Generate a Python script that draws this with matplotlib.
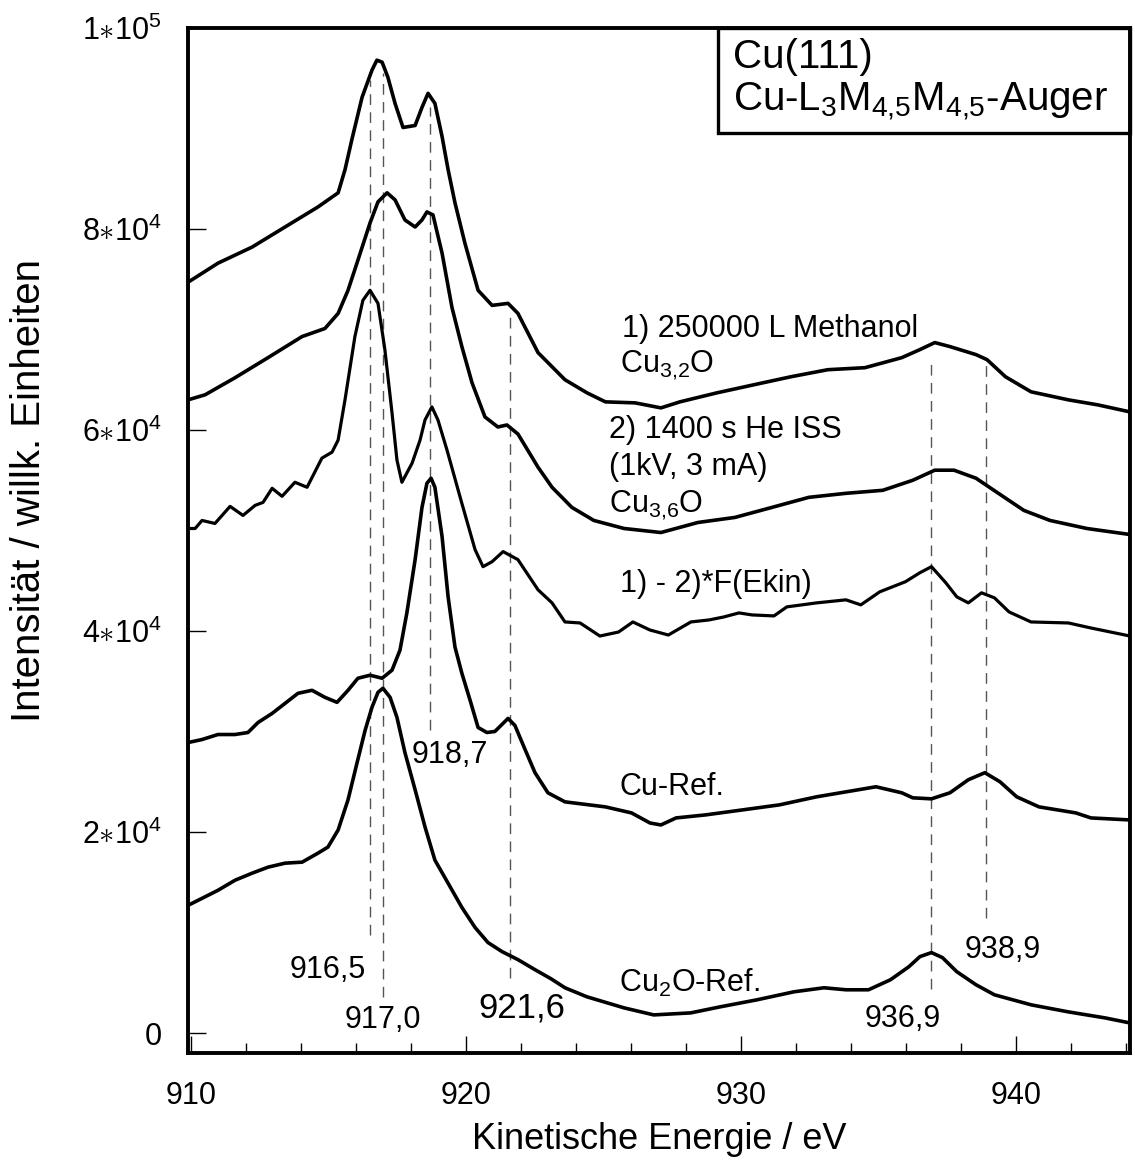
import matplotlib
matplotlib.use("Agg")
import matplotlib.pyplot as plt
from matplotlib.patches import Rectangle
from matplotlib.ticker import FixedLocator, FixedFormatter

plt.rcParams['font.family'] = ['Liberation Sans', 'DejaVu Sans']
plt.rcParams['mathtext.fontset'] = 'custom'
plt.rcParams['mathtext.rm'] = 'Liberation Sans'
plt.rcParams['mathtext.it'] = 'Liberation Sans:italic'
plt.rcParams['mathtext.bf'] = 'Liberation Sans:bold'

# Auger spectra, kinetic energy in eV, intensity in 10^3 counts
e_meoh = [909.89, 910.98, 912.22, 913.42, 914.62, 915.35, 915.60, 915.85, 916.22, 916.58,
          916.76, 916.95, 917.16, 917.42, 917.71, 918.15, 918.40, 918.62, 918.87, 919.13,
          919.35, 919.60, 919.96, 920.44, 920.95, 921.53, 921.89, 922.62, 923.60, 924.40,
          925.07, 926.15, 927.09, 927.78, 929.13, 930.47, 931.82, 933.16, 934.51, 935.85,
          936.51, 937.05, 937.60, 938.55, 938.95, 939.62, 940.55, 941.91, 942.98, 944.15]
i_meoh = [74.7, 76.6, 78.2, 80.2, 82.2, 83.6, 85.9, 88.9, 93.1, 95.8,
          96.8, 96.6, 95.1, 92.5, 90.1, 90.3, 92.1, 93.5, 92.5, 89.2,
          85.9, 82.6, 78.6, 73.9, 72.4, 72.6, 71.6, 67.7, 65.0, 63.7,
          62.8, 62.7, 62.2, 62.8, 63.7, 64.5, 65.3, 66.0, 66.2, 67.2,
          68.0, 68.7, 68.3, 67.5, 67.0, 65.3, 63.8, 63.0, 62.5, 61.8]

e_iss = [909.89, 910.51, 911.60, 912.80, 914.04, 914.87, 915.35, 915.71, 916.07, 916.51,
         916.80, 917.13, 917.42, 917.78, 918.15, 918.40, 918.58, 918.80, 919.13, 919.49,
         919.85, 920.22, 920.69, 921.16, 921.49, 921.89, 922.62, 923.13, 923.60, 923.85,
         924.65, 925.75, 927.09, 928.44, 929.78, 931.13, 932.47, 933.82, 935.16, 936.25,
         937.05, 937.75, 938.55, 939.20, 940.29, 941.24, 942.58, 944.15]
i_iss = [63.0, 63.5, 65.2, 67.2, 69.3, 70.1, 71.6, 73.9, 76.9, 80.6,
         82.7, 83.6, 82.9, 80.9, 80.2, 80.9, 81.7, 81.4, 77.6, 72.2,
         68.3, 64.7, 61.3, 60.3, 60.5, 59.6, 56.3, 54.3, 53.0, 52.3,
         51.0, 50.2, 49.8, 50.8, 51.3, 52.3, 53.3, 53.7, 54.0, 55.0,
         56.0, 56.0, 55.2, 54.0, 52.0, 51.0, 50.2, 49.6]

e_diff = [909.89, 910.15, 910.40, 910.87, 911.42, 911.89, 912.33, 912.62, 912.95, 913.31,
          913.78, 914.22, 914.76, 915.13, 915.35, 915.60, 915.96, 916.25, 916.51, 916.80,
          917.05, 917.31, 917.49, 917.67, 918.04, 918.33, 918.51, 918.76, 918.98, 919.31,
          919.85, 920.33, 920.62, 920.95, 921.35, 921.89, 922.62, 923.13, 923.60, 924.15,
          924.87, 925.55, 926.07, 926.69, 927.36, 928.18, 928.84, 929.38, 929.93, 930.40,
          931.20, 931.67, 932.76, 933.82, 934.36, 935.05, 935.98, 936.51, 936.93, 937.45,
          937.85, 938.27, 938.75, 939.22, 939.75, 940.55, 941.91, 942.73, 944.15]
i_diff = [50.2, 50.2, 51.0, 50.7, 52.4, 51.5, 52.5, 52.8, 54.2, 53.4,
          54.8, 54.3, 57.2, 57.8, 59.0, 63.0, 69.3, 72.9, 73.9, 72.6,
          68.0, 61.7, 57.0, 54.8, 56.7, 59.0, 61.0, 62.3, 61.0, 58.0,
          52.7, 48.1, 46.4, 46.9, 47.9, 47.1, 44.1, 42.8, 40.9, 40.8,
          39.5, 39.9, 40.9, 40.1, 39.6, 40.9, 41.1, 41.4, 41.8, 41.6,
          41.5, 42.4, 42.8, 43.1, 42.6, 43.9, 44.9, 45.8, 46.4, 44.8,
          43.4, 42.8, 43.8, 43.3, 41.9, 40.9, 40.8, 40.3, 39.5]

e_cu = [909.89, 910.40, 910.98, 911.60, 912.07, 912.44, 912.95, 913.42, 913.89, 914.40,
        914.87, 915.31, 915.71, 916.07, 916.51, 916.95, 917.31, 917.60, 917.85, 918.15,
        918.40, 918.58, 918.73, 918.87, 919.13, 919.35, 919.60, 919.85, 920.15, 920.44,
        920.76, 921.05, 921.53, 921.78, 922.15, 922.51, 922.98, 923.60, 925.07, 926.02,
        926.69, 927.09, 927.64, 928.71, 930.06, 931.40, 932.75, 933.83, 934.91, 935.85,
        936.25, 936.93, 937.60, 938.27, 938.87, 939.42, 940.03, 940.84, 942.18, 942.73, 944.15]
i_cu = [28.9, 29.2, 29.7, 29.7, 29.9, 30.9, 31.8, 32.8, 33.8, 34.1,
        33.4, 32.9, 34.1, 35.3, 35.6, 35.3, 36.1, 38.1, 41.8, 47.1,
        52.3, 54.7, 55.2, 54.3, 49.4, 43.4, 38.4, 35.8, 33.1, 30.4,
        29.9, 30.0, 31.3, 30.6, 28.2, 25.9, 23.9, 23.0, 22.5, 21.9,
        20.9, 20.7, 21.4, 21.7, 22.2, 22.7, 23.5, 24.0, 24.5, 23.9,
        23.4, 23.3, 23.9, 25.2, 25.9, 25.0, 23.5, 22.5, 21.9, 21.4, 21.2]

e_cu2o = [909.89, 910.40, 910.98, 911.60, 912.22, 912.80, 913.42, 914.04, 914.62, 914.98,
          915.35, 915.71, 916.04, 916.33, 916.58, 916.80, 916.98, 917.24, 917.49, 917.78,
          918.15, 918.51, 918.87, 919.35, 919.85, 920.33, 920.80, 921.31, 921.89, 922.51,
          923.09, 923.60, 924.40, 925.75, 926.83, 928.17, 929.24, 930.58, 931.93, 933.02,
          933.82, 934.64, 935.44, 936.11, 936.51, 936.93, 937.33, 937.85, 938.55, 939.22,
          940.56, 941.91, 943.25, 944.15]
i_cu2o = [12.7, 13.4, 14.2, 15.2, 15.9, 16.5, 16.9, 17.0, 17.9, 18.5,
          20.2, 23.2, 26.9, 30.1, 32.4, 33.9, 34.3, 33.4, 31.4, 27.9,
          24.2, 20.5, 17.2, 14.9, 12.5, 10.5, 9.0, 8.1, 7.3, 6.3,
          5.4, 4.5, 3.6, 2.5, 1.8, 2.0, 2.6, 3.3, 4.1, 4.5,
          4.3, 4.3, 5.3, 6.6, 7.6, 8.0, 7.5, 6.1, 4.8, 3.8,
          2.8, 2.1, 1.5, 1.0]

# peak positions with the extent of their marker lines (10^3 counts)
peak_ev = [916.5, 917.0, 918.7, 921.6, 936.9, 938.9]
peak_top = [94.8, 95.5, 92.1, 71.6, 67.3, 66.8]
peak_bottom = [9.8, 3.6, 30.1, 5.5, 4.4, 11.4]

y_ticks = [0, 20000, 40000, 60000, 80000, 100000]
y_labels = ['0', r'$2{\ast}10^{4}$', r'$4{\ast}10^{4}$', r'$6{\ast}10^{4}$',
            r'$8{\ast}10^{4}$', r'$1{\ast}10^{5}$']

W, H = 1135, 1164
fig = plt.figure(figsize=(W / 100, H / 100), dpi=100)
ax = fig.add_axes([188 / W, 1 - 1053 / H, 942 / W, 1025 / H])

for x, top, bot in zip(peak_ev, peak_top, peak_bottom):
    ax.plot([x, x], [bot * 1000, top * 1000], color='#555555', lw=1.0,
            linestyle=(0, (7.7, 5.3)), zorder=1)

# measured spectra are drawn a bit heavier than the smooth difference curve
spectra = [(e_meoh, i_meoh, 2.6), (e_iss, i_iss, 2.6), (e_diff, i_diff, 2.3),
           (e_cu, i_cu, 2.6), (e_cu2o, i_cu2o, 2.6)]
for e, i, lw in spectra:
    ax.plot(e, [v * 1000 for v in i], color='black', lw=lw,
            solid_joinstyle='round', zorder=3)

ax.set_xlim(909.89, 944.15)
ax.set_ylim(-1990, 100000)

ax.xaxis.set_major_locator(FixedLocator([910, 920, 930, 940]))
ax.xaxis.set_minor_locator(FixedLocator(list(range(912, 945, 2))))
ax.yaxis.set_major_locator(FixedLocator(y_ticks))
ax.yaxis.set_major_formatter(FixedFormatter(y_labels))
ax.tick_params(axis='x', which='major', direction='in', length=12, width=1.0,
               labelsize=22, pad=20)
ax.tick_params(axis='x', which='minor', direction='in', length=7, width=1.0)
ax.tick_params(axis='y', which='major', direction='in', length=13, width=1.0,
               labelsize=22, pad=19)
for side in ['left', 'bottom', 'top', 'right']:
    ax.spines[side].set_linewidth(2.8)

fig.text(659 / W, 1 - 1149 / H, 'Kinetische Energie / eV', fontsize=26,
         ha='center', va='baseline')
fig.text(29 / W, 1 - 490 / H, 'Intensität / willk. Einheiten', fontsize=29,
         ha='center', va='center', rotation=90)

# sample box in the upper right corner
ax.add_patch(Rectangle((530 / 942, 920 / 1025), 412 / 942, 105 / 1025,
                       transform=ax.transAxes, fill=False, lw=2.4,
                       edgecolor='black', zorder=4, clip_on=False))
ax.text(545 / 942, (1053 - 68) / 1025, 'Cu(111)', transform=ax.transAxes,
        fontsize=29, ha='left', va='baseline')
ax.text(545 / 942, (1053 - 111) / 1025, r'Cu-L$_3$M$_{4{,}5}$M$_{4{,}5}$-Auger',
        transform=ax.transAxes, fontsize=29, ha='left', va='baseline')

labels = [
    (925.67, 69.3, '1) 250000 L Methanol', 22),
    (925.6, 65.7, r'Cu$_{3{,}2}$O', 22),
    (925.2, 59.2, '2) 1400 s He ISS', 22),
    (925.2, 55.5, '(1kV, 3 mA)', 22),
    (925.2, 51.8, r'Cu$_{3{,}6}$O', 22),
    (925.6, 43.9, '1) - 2)*F(Ekin)', 22),
    (925.6, 23.7, 'Cu-Ref.', 22),
    (925.55, 4.1, r'Cu$_2$O-Ref.', 22),
    (934.5, 0.6, '936,9', 22),
    (938.15, 7.5, '938,9', 22),
    (913.6, 5.5, '916,5', 22),
    (915.6, 0.5, '917,0', 22),
    (918.04, 26.9, '918,7', 22),
    (920.44, 1.5, '921,6', 25),
]
for x, y, s, size in labels:
    ax.text(x, y * 1000, s, fontsize=size, ha='left', va='baseline', zorder=5)

fig.savefig('out.png', dpi=100)
